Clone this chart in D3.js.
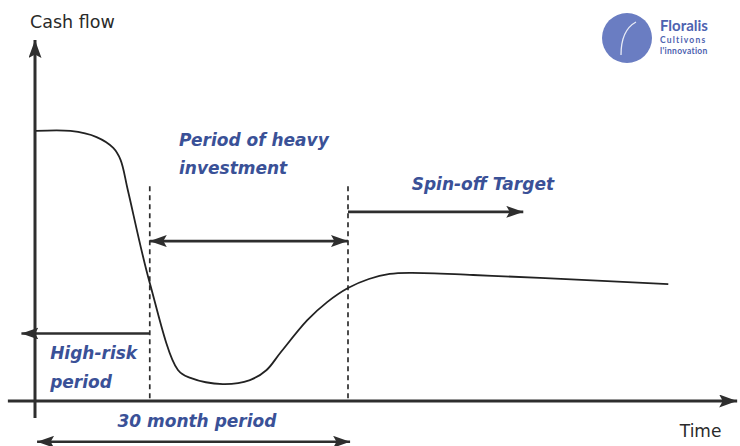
<!DOCTYPE html>
<html lang="en">
<head>
<meta charset="utf-8">
<script src="https://d3js.org/d3.v7.min.js"></script>
<style>
  body { margin: 0; background: #fff; }
  svg { display: block; font-family: "DejaVu Sans", "Noto Sans", sans-serif; }
</style>
</head>
<body>
<div id="chart"></div>
<script>
// curve: time in months, cash flow in arbitrary units
var curveMonths = [0.1, 3.4, 5.9, 7.5, 8.2, 8.9, 11.0, 13.7, 14.9, 18.0, 20.6, 22.2, 23.5, 26.1, 28.0, 30.0, 32.0, 34.0, 36.0, 42.0, 48.4, 60.7];
var curveCash   = [74.8, 74.8, 73.1, 70.1, 66.8, 58.4, 32.7, 8.6, 6.4, 4.7, 5.8, 8.6, 13.3, 22.4, 27.4, 31.3, 33.8, 35.2, 35.5, 34.9, 34.1, 32.4];

// period boundaries (months)
var riskEnd = 11.0;
var spinOff = 30.0;

var labels = {
  yAxis: "Cash flow",
  xAxis: "Time",
  heavy: ["Period of heavy", "investment"],
  spin: "Spin-off Target",
  risk: ["High-risk", "period"],
  month: "30 month period"
};

var W = 740, H = 446;
var svg = d3.select("#chart").append("svg")
  .attr("width", W).attr("height", H);

var x = d3.scaleLinear().domain([0, 30]).range([35, 348]);
var y = d3.scaleLinear().domain([0, 100]).range([401, 40]);

var dark = "#2e2e2e", blue = "#3a5197";

// arrow heads
var defs = svg.append("defs");
function marker(id, len, wid) {
  defs.append("marker")
    .attr("id", id)
    .attr("viewBox", "0 0 " + len + " " + wid)
    .attr("refX", len).attr("refY", wid / 2)
    .attr("markerWidth", len).attr("markerHeight", wid)
    .attr("markerUnits", "userSpaceOnUse")
    .attr("orient", "auto-start-reverse")
    .append("path")
      .attr("d", "M0,0L" + len + "," + (wid / 2) + "L0," + wid + "L" + (len * 0.2) + "," + (wid / 2) + "Z")
      .attr("fill", dark);
}
marker("ax", 18, 13);
marker("ar", 17, 12);

// axes
svg.append("line")
  .attr("x1", x(-2.6)).attr("x2", x(67.3))
  .attr("y1", y(0)).attr("y2", y(0))
  .attr("stroke", dark).attr("stroke-width", 3)
  .attr("marker-end", "url(#ax)");
svg.append("line")
  .attr("x1", x(0)).attr("x2", x(0))
  .attr("y1", y(-4.7)).attr("y2", y(100))
  .attr("stroke", dark).attr("stroke-width", 3)
  .attr("marker-end", "url(#ax)");

svg.append("text")
  .attr("x", x(0) - 5).attr("y", 28)
  .attr("font-size", 17.5).attr("fill", "#2a2a2a")
  .text(labels.yAxis);
svg.append("text")
  .attr("x", x(61.8)).attr("y", 437)
  .attr("font-size", 17).attr("fill", "#2a2a2a")
  .text(labels.xAxis);

// dashed period boundaries
[riskEnd, spinOff].forEach(function(t) {
  svg.append("line")
    .attr("x1", x(t)).attr("x2", x(t))
    .attr("y1", y(59.5)).attr("y2", y(0))
    .attr("stroke", dark).attr("stroke-width", 1.7)
    .attr("stroke-dasharray", "5,4");
});

// the curve
var pts = curveMonths.map(function(t, i) { return [t, curveCash[i]]; });
svg.append("path")
  .datum(pts)
  .attr("fill", "none")
  .attr("stroke", "#222")
  .attr("stroke-width", 1.8)
  .attr("d", d3.line()
    .x(function(d) { return x(d[0]); })
    .y(function(d) { return y(d[1]); })
    .curve(d3.curveCatmullRom.alpha(0.5)));

// arrows
function arrow(t0, t1, v, both) {
  svg.append("line")
    .attr("x1", x(t0)).attr("x2", x(t1))
    .attr("y1", y(v)).attr("y2", y(v))
    .attr("stroke", dark).attr("stroke-width", 2.6)
    .attr("marker-end", "url(#ar)")
    .attr("marker-start", both ? "url(#ar)" : null);
}
arrow(riskEnd, spinOff, 44.3, true);   // heavy investment
arrow(spinOff, 46.8, 52.4, false);     // spin-off target
arrow(riskEnd, -1.3, 18.7, false);     // high risk
arrow(0.2, 30.2, -11.3, true);         // 30 month period

// blue annotations
function note(lines, t, v, lh) {
  var txt = svg.append("text")
    .attr("x", x(t)).attr("y", y(v))
    .attr("font-size", 17).attr("font-weight", "bold")
    .attr("font-style", "italic").attr("fill", blue);
  lines.forEach(function(s, i) {
    txt.append("tspan").attr("x", x(t)).attr("dy", i ? lh : 0).text(s);
  });
}
note(labels.heavy, 13.8, 70.6, 28);
note([labels.spin], 36.1, 58.4, 0);
note(labels.risk, 1.45, 11.6, 29);
note([labels.month], 7.9, -7.2, 0);

// logo
var logo = svg.append("g").attr("transform", "translate(627,38)");
logo.append("circle").attr("r", 25).attr("fill", "#6a7dc2");
logo.append("path")
  .attr("d", "M9,-16 C-2,-10 -6,2 -6,17")
  .attr("fill", "none").attr("stroke", "#fff").attr("stroke-width", 1.3).attr("opacity", 0.85);
logo.append("text").attr("x", 33).attr("y", -7)
  .attr("font-family", "Lato, sans-serif")
  .attr("font-size", 15).attr("font-weight", "bold").attr("fill", "#4d62b0")
  .text("Floralis");
logo.append("text").attr("x", 33).attr("y", 5)
  .attr("font-family", "Lato, sans-serif")
  .attr("font-size", 8.5).attr("font-weight", "bold").attr("fill", "#4d62b0")
  .attr("letter-spacing", 1.2)
  .text("Cultivons");
logo.append("text").attr("x", 33).attr("y", 16)
  .attr("font-family", "Lato, sans-serif")
  .attr("font-size", 8.5).attr("font-weight", "bold").attr("fill", "#4d62b0")
  .attr("letter-spacing", 0.3)
  .text("l'innovation");
</script>
</body>
</html>
